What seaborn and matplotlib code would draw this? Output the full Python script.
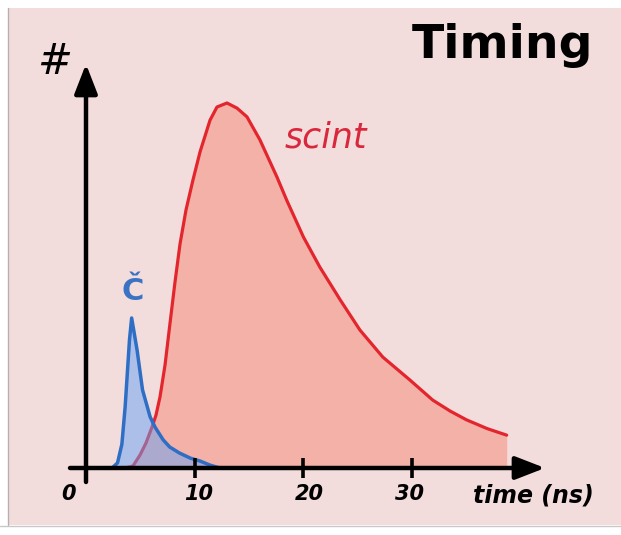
import numpy as np
import matplotlib
matplotlib.use("Agg")
import matplotlib.pyplot as plt
import seaborn as sns
from matplotlib.patches import Rectangle
from matplotlib.lines import Line2D

# ---- data (time in ns, counts in arbitrary units) ----
scint_t = [3.6, 4.32, 4.97, 5.52, 6.07, 6.44, 6.81, 7.27, 7.73, 8.19, 8.65, 9.2,
           9.84, 10.49, 11.41, 12.05, 12.97, 13.89, 14.81, 16.0, 17.57, 18.49,
           20.0, 21.5, 23.4, 25.2, 27.3, 29.8, 31.9, 33.5, 35.0, 36.9, 38.7]
scint_n = [0, 0.55, 3.56, 6.85, 11.2, 14.5, 19.5, 28.2, 39.7, 51.0, 61.4, 70.7,
           78.9, 86.6, 95.3, 98.9, 100, 98.6, 96.2, 89.9, 79.7, 73.2, 63.3, 55.1,
           46.0, 37.8, 30.4, 24.1, 18.6, 15.6, 13.2, 10.8, 9.0]
cher_t = [2.4, 2.9, 3.3, 3.6, 4.0, 4.2, 4.7, 5.2, 5.9, 6.35, 7.1, 7.7, 8.6, 9.6,
          10.5, 11.4, 12.3]
cher_n = [0, 1.4, 6.5, 16.7, 35.1, 41.1, 32.3, 21.4, 14.0, 11.2, 7.7, 5.75, 4.1,
          2.7, 1.9, 0.8, 0]
tick_vals = [10, 20, 30]
tick_labels = ["0", "10", "20", "30"]
tick_label_pos = [-1.6, 10.4, 20.5, 29.8]

sns.set_style("white")
plt.rcParams["font.family"] = ["DejaVu Sans"]

W, H = 621, 535
X0, Y0 = 86, 468
PX, PY = 10.87, 3.65

fig = plt.figure(figsize=(W / 100, H / 100), dpi=100)
fig.patch.set_facecolor("white")
fig.patches.append(Rectangle((8 / W, 1 - 525 / H), 1 - 8 / W, (525 - 8) / H,
                             transform=fig.transFigure, facecolor="#f3dcdc",
                             edgecolor="none", zorder=-10))
fig.lines.append(Line2D([7.5 / W, 7.5 / W], [1 - 525 / H, 1 - 8 / H],
                        transform=fig.transFigure, color="#b8b0b0", lw=1))
fig.lines.append(Line2D([0, 1], [1 - 526 / H, 1 - 526 / H],
                        transform=fig.transFigure, color="#c8c8c8", lw=1))

ax = fig.add_axes([0, 0, 1, 1])
ax.set_facecolor("none")
ax.set_xlim(-X0 / PX, (W - X0) / PX)
ax.set_ylim((Y0 - H) / PY, Y0 / PY)
ax.axis("off")


def d(px, py):
    return (px - X0) / PX, (Y0 - py) / PY


# scintillation
ax.fill_between(scint_t, scint_n, 0, color="#f4b1a7", lw=0, zorder=1)
sns.lineplot(x=scint_t, y=scint_n, color="#e3262e", lw=2.3, ax=ax, sort=False,
             zorder=2, solid_joinstyle="round", solid_capstyle="round")
# Cherenkov
ax.fill_between(cher_t, cher_n, 0, color="#66a3f7", alpha=0.5, lw=0, zorder=3)
sns.lineplot(x=cher_t, y=cher_n, color="#2e6ec4", lw=2.5, ax=ax, sort=False,
             zorder=4, solid_joinstyle="round", solid_capstyle="round")

# axes with arrows
ax.annotate("", xy=d(545, Y0), xytext=d(70, Y0),
            arrowprops=dict(arrowstyle="-|>,head_length=0.9,head_width=0.35",
                            lw=3.2, color="black", mutation_scale=20,
                            shrinkA=0, shrinkB=0), zorder=5)
ax.annotate("", xy=d(X0, 64), xytext=d(X0, 482),
            arrowprops=dict(arrowstyle="-|>,head_length=0.9,head_width=0.35",
                            lw=3.2, color="black", mutation_scale=20,
                            shrinkA=0, shrinkB=0), zorder=5)
ax.vlines(tick_vals, -2.8, 2.8, color="black", lw=2.6, zorder=5)

for lab, pos in zip(tick_labels, tick_label_pos):
    ax.text(pos, d(0, 494)[1], lab, ha="center", va="center", fontsize=15,
            fontweight="bold", fontstyle="italic", color="black")

ax.text(*d(533, 496), "time (ns)", ha="center", va="center", fontsize=17,
        fontweight="bold", fontstyle="italic", color="black")
ax.text(*d(55, 62), "#", ha="center", va="center", fontsize=30,
        fontstyle="italic", color="black")
ax.text(*d(326, 138), "scint", ha="center", va="center", fontsize=25,
        fontstyle="italic", color="#d9283c")
ax.text(*d(133, 292), "Č", ha="center", va="center", fontsize=22,
        fontweight="bold", color="#3a72c4")
ax.text(*d(593, 58), "Timing", ha="right", va="baseline", fontsize=34,
        fontweight="bold", color="black")

fig.savefig("out.png", dpi=100, facecolor=fig.get_facecolor())
